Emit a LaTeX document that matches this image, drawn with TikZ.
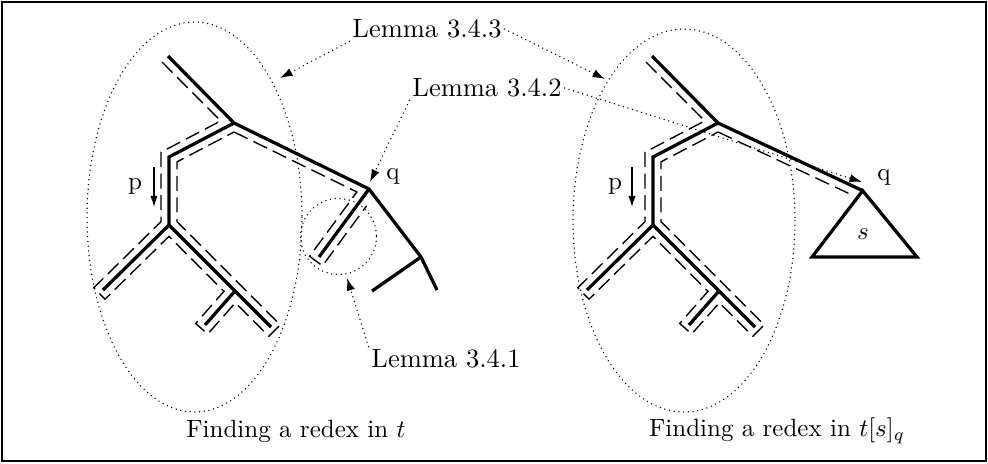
\documentclass[tikz,border=0pt]{standalone}
\usepackage{tikz}
\usetikzlibrary{arrows.meta}

\begin{document}
\begin{tikzpicture}[
	x=0.4pt, y=-0.4pt,
	branch/.style={line width=1.3pt, line join=miter},
	walk/.style={line width=0.55pt, dash pattern=on 6pt off 2.6pt},
	dotline/.style={line width=0.6pt, line cap=round, dash pattern=on 0pt off 1.9pt},
	hint/.style={dotline, -{Latex[length=5pt, width=3.4pt]}},
	dir/.style={line width=0.5pt, -{Latex[length=4.5pt, width=3pt]}},
	lemma/.style={inner sep=1pt, font=\fontsize{10.6pt}{12pt}\selectfont}
]
	\useasboundingbox (0,0) rectangle (988,463);
	\draw[line width=0.8pt] (2,2) rectangle (986,461);

	% the two regions and the small one
	\draw[dotline] (194.5,217) ellipse [x radius=107.5, y radius=195];
	\draw[dotline] (684,220.5) ellipse [x radius=111, y radius=191.5];
	\draw[dotline] (338.5,236.5) circle [radius=38];

	% common part of both trees
	\foreach \sx/\t in {0/l,484/r}{
		\begin{scope}[shift={(\sx,0)}]
			\coordinate (top\t) at (168,56);
			\coordinate (a\t) at (234,123);
			\coordinate (b\t) at (169,157);
			\coordinate (c\t) at (169,225);
			\coordinate (leafa\t) at (103,290);
			\coordinate (d\t) at (235,291);
			\coordinate (leafb\t) at (205,325);
			\coordinate (leafc\t) at (271,327);
			\draw[branch] (top\t) -- (a\t) -- (b\t) -- (c\t) -- (leafa\t);
			\draw[branch] (c\t) -- (leafc\t);
			\draw[branch] (d\t) -- (leafb\t);
			\draw[walk] (162,62) -- (220.7,120.9) -- (161,152.2) -- (161,221.6)
				-- (93.8,287.8) -- (105,299.2) -- (169,236.3) -- (224,291.3)
				-- (195.7,323.5) -- (207.7,334) -- (235.4,302.7) -- (268.9,336.2)
				-- (280.2,324.8) -- (177,221.7) -- (177,161.8) -- (234.1,132);
		\end{scope}
	}

	% left tree: position q and its subtree
	\coordinate (ql) at (369,189);
	\coordinate (leafq) at (319,257);
	\coordinate (e) at (421,257);
	\coordinate (f) at (437,290);
	\coordinate (g) at (372,291);
	\draw[branch] (al) -- (ql) -- (e) -- (f);
	\draw[branch] (ql) -- (leafq);
	\draw[branch] (e) -- (g);
	\draw[walk] (234.1,132) -- (356.9,192) -- (309.6,256.3) -- (322.5,265.8) -- (366.6,205.8);

	% right tree: q replaced by s
	\coordinate (qr) at (862.7,190.7);
	\coordinate (sl) at (812,257);
	\coordinate (sr) at (917,257);
	\draw[branch] (ar) -- (qr);
	\draw[branch] (qr) -- (sl) -- (sr) -- cycle;
	\draw[walk] (718.1,132) -- (850,194);
	\node (s) at (863,234) {$s$};

	% labels p and q
	\node (pl) at (135,186) {p};
	\node (pr) at (615,186) {p};
	\coordinate (pla) at (154,167);
	\coordinate (plb) at (154,207);
	\coordinate (pra) at (632,167);
	\coordinate (prb) at (632,207);
	\draw[dir] (pla) -- (plb);
	\draw[dir] (pra) -- (prb);
	\node (qll) at (393,176) {q};
	\node (qrl) at (884,177) {q};

	% lemmas
	\node[lemma] (l343) at (427,29) {Lemma 3.4.3};
	\node[lemma] (l342) at (487,88) {Lemma 3.4.2};
	\node[lemma] (l341) at (446,359) {Lemma 3.4.1};
	\coordinate (ellL) at (280,78);
	\coordinate (ellR) at (605,79);
	\coordinate (qlt) at (370,182);
	\coordinate (qrt) at (862,182);
	\coordinate (circt) at (347,278);
	\draw[hint] (l343.south west) -- (ellL);
	\draw[hint] (l343.east) -- (ellR);
	\draw[hint] (l342.south west) -- (qlt);
	\draw[hint] (l342.east) -- (qrt);
	\draw[hint] (l341.north west) -- (circt);

	% captions
	\node (capl) at (296,431) {Finding a redex in $t$};
	\node (capr) at (777,431) {Finding a redex in $t[s]_q$};
\end{tikzpicture}
\end{document}
